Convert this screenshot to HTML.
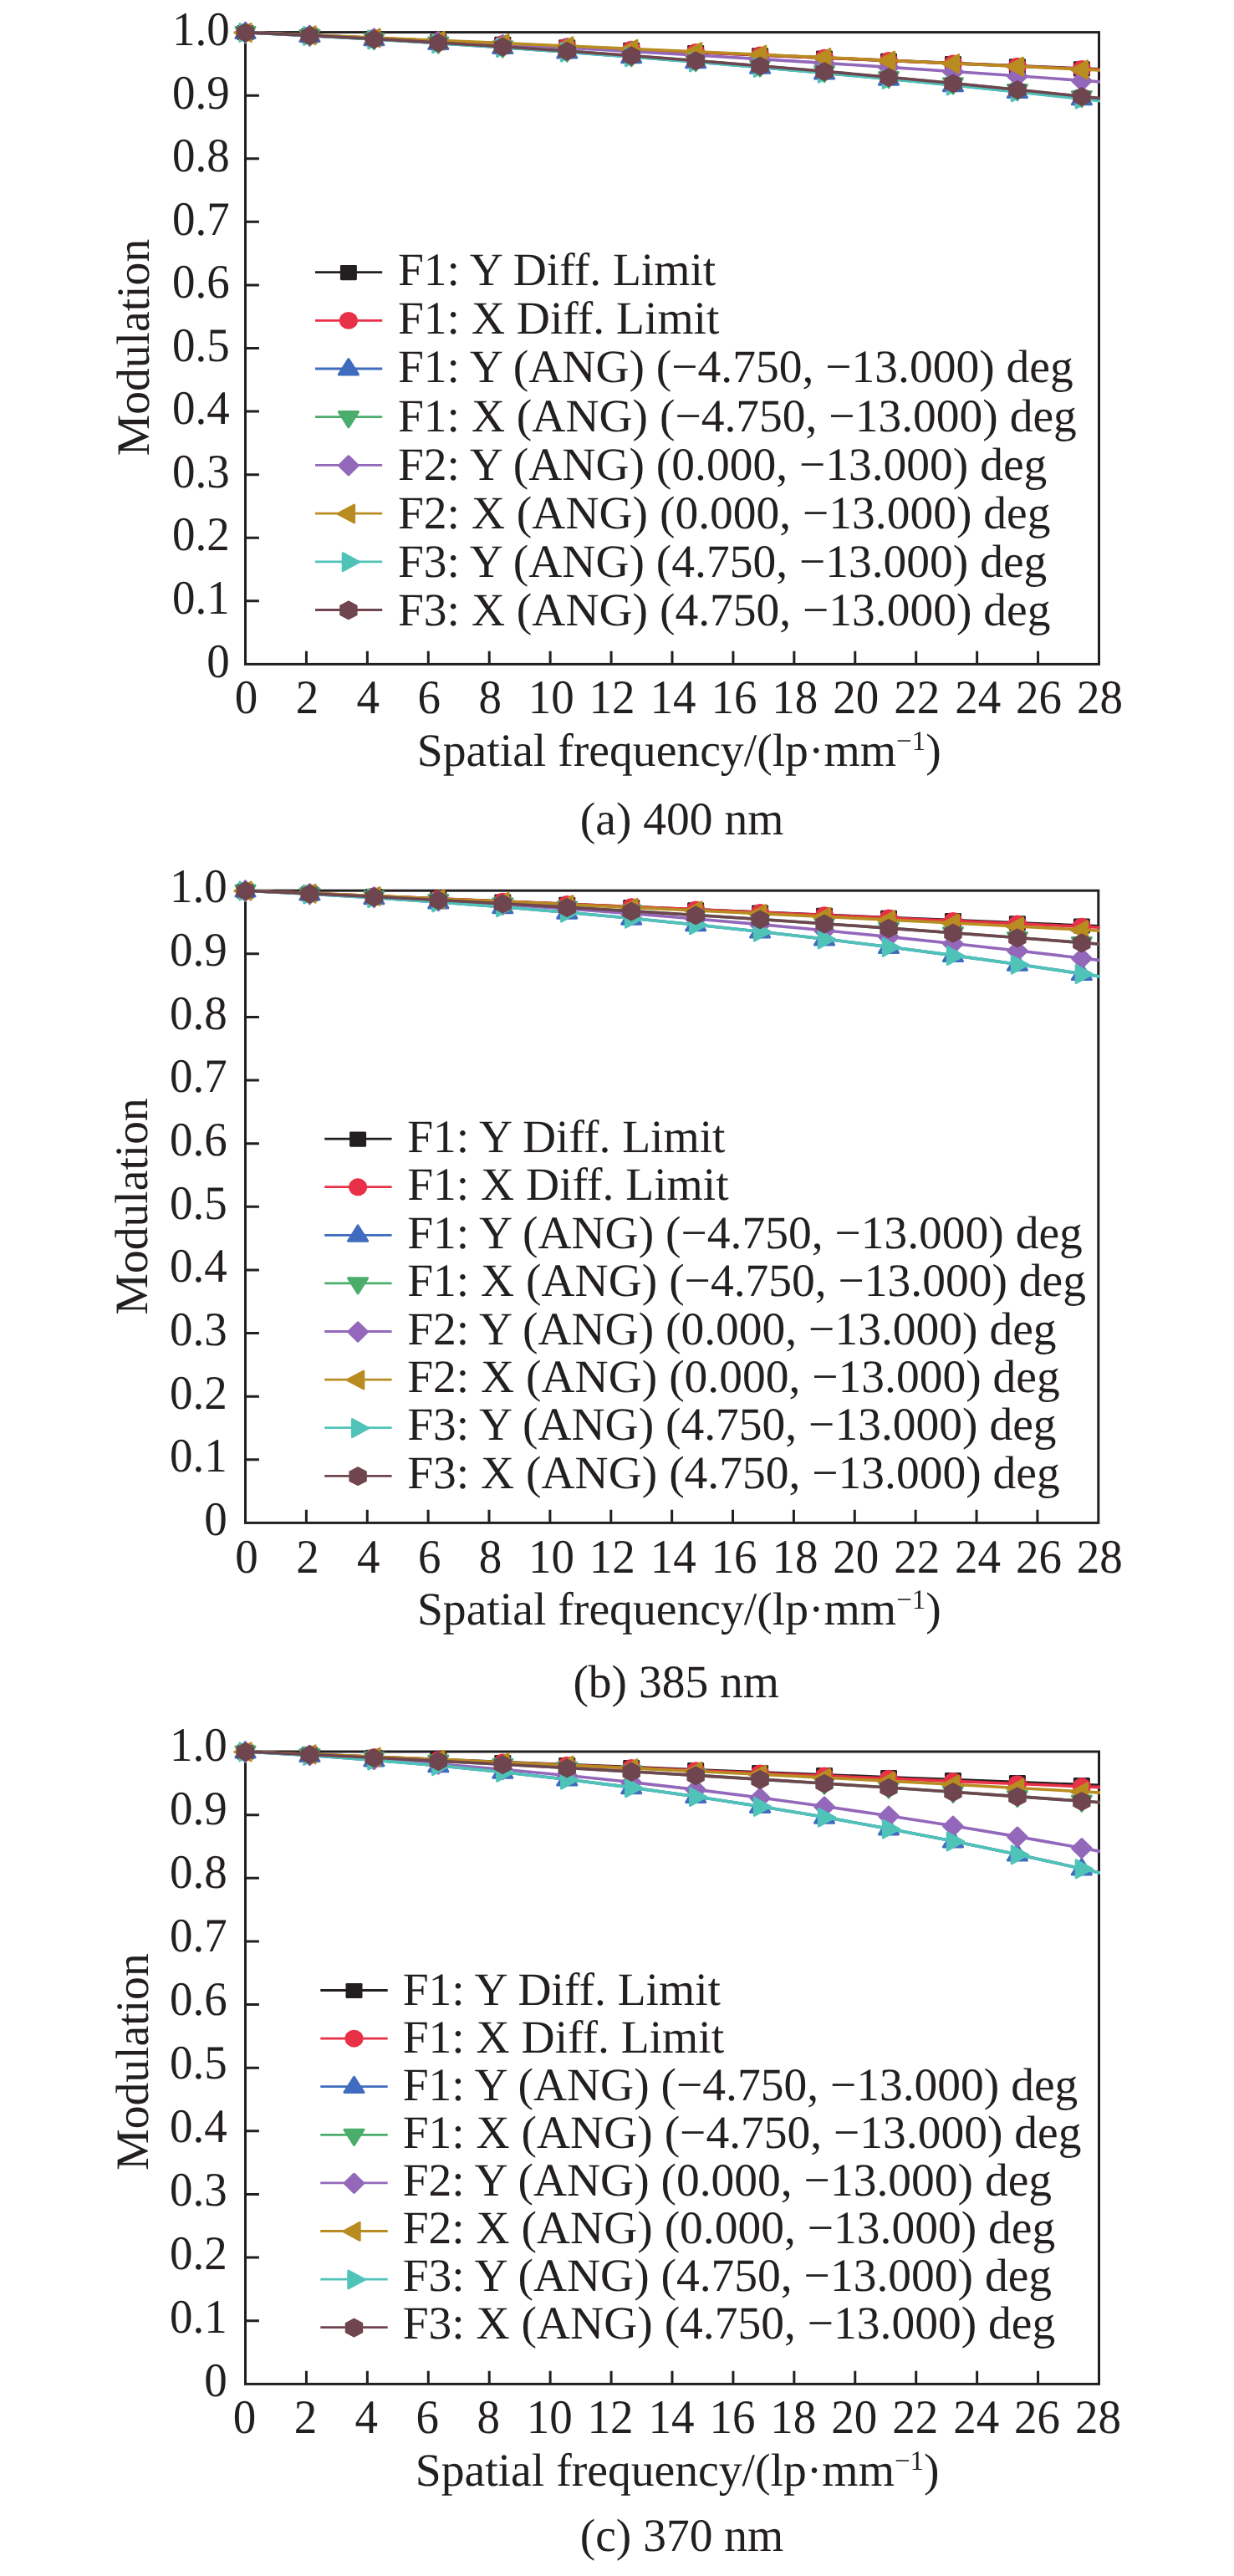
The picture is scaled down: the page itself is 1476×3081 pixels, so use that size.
<!DOCTYPE html>
<html lang="en"><head><meta charset="utf-8"><title>MTF curves</title>
<style>html,body{margin:0;padding:0;background:#fff}svg{display:block}text{font-family:"Liberation Serif","Times New Roman",serif;font-size:55px;fill:#231f20;text-rendering:geometricPrecision}.b{font-size:55.5px}.x{font-size:55.65px}.m{font-size:55.6px}</style>
</head><body>
<svg width="1476" height="3081" viewBox="0 0 1476 3081">
<rect width="1476" height="3081" fill="#fff"/>
<g id="chart1">
<rect x="293.5" y="38.6" width="1021" height="755.8" fill="none" stroke="#231f20" stroke-width="3"/>
<path d="M293.5 718.82h16.4M293.5 643.24h16.4M293.5 567.66h16.4M293.5 492.08h16.4M293.5 416.5h16.4M293.5 340.92h16.4M293.5 265.34h16.4M293.5 189.76h16.4M293.5 114.18h16.4M366.43 794.4v-15.6M439.36 794.4v-15.6M512.29 794.4v-15.6M585.21 794.4v-15.6M658.14 794.4v-15.6M731.07 794.4v-15.6M804 794.4v-15.6M876.93 794.4v-15.6M949.86 794.4v-15.6M1022.79 794.4v-15.6M1095.71 794.4v-15.6M1168.64 794.4v-15.6M1241.57 794.4v-15.6" stroke="#231f20" stroke-width="3" fill="none"/>
<g text-anchor="end">
<text transform="translate(274.7 809.5) scale(1 1.045)">0</text>
<text transform="translate(274.7 733.96) scale(1 1.045)">0.1</text>
<text transform="translate(274.7 658.42) scale(1 1.045)">0.2</text>
<text transform="translate(274.7 582.88) scale(1 1.045)">0.3</text>
<text transform="translate(274.7 507.34) scale(1 1.045)">0.4</text>
<text transform="translate(274.7 431.8) scale(1 1.045)">0.5</text>
<text transform="translate(274.7 356.26) scale(1 1.045)">0.6</text>
<text transform="translate(274.7 280.72) scale(1 1.045)">0.7</text>
<text transform="translate(274.7 205.18) scale(1 1.045)">0.8</text>
<text transform="translate(274.7 129.64) scale(1 1.045)">0.9</text>
<text transform="translate(274.7 54.1) scale(1 1.045)">1.0</text>
</g>
<g text-anchor="middle">
<text transform="translate(294.5 853.4) scale(1 1.045)">0</text>
<text transform="translate(367.43 853.4) scale(1 1.045)">2</text>
<text transform="translate(440.36 853.4) scale(1 1.045)">4</text>
<text transform="translate(513.29 853.4) scale(1 1.045)">6</text>
<text transform="translate(586.21 853.4) scale(1 1.045)">8</text>
<text transform="translate(659.14 853.4) scale(1 1.045)">10</text>
<text transform="translate(732.07 853.4) scale(1 1.045)">12</text>
<text transform="translate(805 853.4) scale(1 1.045)">14</text>
<text transform="translate(877.93 853.4) scale(1 1.045)">16</text>
<text transform="translate(950.86 853.4) scale(1 1.045)">18</text>
<text transform="translate(1023.79 853.4) scale(1 1.045)">20</text>
<text transform="translate(1096.71 853.4) scale(1 1.045)">22</text>
<text transform="translate(1169.64 853.4) scale(1 1.045)">24</text>
<text transform="translate(1242.57 853.4) scale(1 1.045)">26</text>
<text transform="translate(1315.5 853.4) scale(1 1.045)">28</text>
</g>
<text transform="translate(177.6 415.5) rotate(-90)" text-anchor="middle" class="m">Modulation</text>
<text x="498.8" y="915.7" class="x" style="filter:grayscale(1)">Spatial frequency/(lp·mm<tspan font-size="33" dy="-19">−1</tspan><tspan dy="19">)</tspan></text>
<text x="693.8" y="998" class="b">(a) 400 nm</text>
<clipPath id="clip0"><rect x="273.5" y="18.6" width="1042.5" height="795.8"/></clipPath>
<g clip-path="url(#clip0)">
<polyline points="293.5,38.6 370.45,42.11 447.4,45.59 524.35,49.04 601.3,52.47 678.25,55.86 755.2,59.23 832.15,62.56 909.1,65.87 986.05,69.15 1063,72.4 1139.95,75.61 1216.9,78.81 1293.85,81.97 1325.44,83.26" fill="none" stroke="#231f20" stroke-width="3.6" stroke-linejoin="round"/>
<rect x="283.5" y="30" width="20" height="18.2" rx="1.4" fill="#231f20"/>
<rect x="360.45" y="33.51" width="20" height="18.2" rx="1.4" fill="#231f20"/>
<rect x="437.4" y="36.99" width="20" height="18.2" rx="1.4" fill="#231f20"/>
<rect x="514.35" y="40.44" width="20" height="18.2" rx="1.4" fill="#231f20"/>
<rect x="591.3" y="43.87" width="20" height="18.2" rx="1.4" fill="#231f20"/>
<rect x="668.25" y="47.26" width="20" height="18.2" rx="1.4" fill="#231f20"/>
<rect x="745.2" y="50.63" width="20" height="18.2" rx="1.4" fill="#231f20"/>
<rect x="822.15" y="53.96" width="20" height="18.2" rx="1.4" fill="#231f20"/>
<rect x="899.1" y="57.27" width="20" height="18.2" rx="1.4" fill="#231f20"/>
<rect x="976.05" y="60.55" width="20" height="18.2" rx="1.4" fill="#231f20"/>
<rect x="1053" y="63.8" width="20" height="18.2" rx="1.4" fill="#231f20"/>
<rect x="1129.95" y="67.01" width="20" height="18.2" rx="1.4" fill="#231f20"/>
<rect x="1206.9" y="70.21" width="20" height="18.2" rx="1.4" fill="#231f20"/>
<rect x="1283.85" y="73.37" width="20" height="18.2" rx="1.4" fill="#231f20"/>
<polyline points="293.5,38.6 370.45,42.03 447.4,45.45 524.35,48.87 601.3,52.27 678.25,55.66 755.2,59.04 832.15,62.41 909.1,65.77 986.05,69.12 1063,72.46 1139.95,75.79 1216.9,79.11 1293.85,82.41 1325.44,83.77" fill="none" stroke="#e83046" stroke-width="3.6" stroke-linejoin="round"/>
<ellipse cx="293.5" cy="38.7" rx="11" ry="10.45" fill="#e83046"/>
<ellipse cx="370.45" cy="42.13" rx="11" ry="10.45" fill="#e83046"/>
<ellipse cx="447.4" cy="45.55" rx="11" ry="10.45" fill="#e83046"/>
<ellipse cx="524.35" cy="48.97" rx="11" ry="10.45" fill="#e83046"/>
<ellipse cx="601.3" cy="52.37" rx="11" ry="10.45" fill="#e83046"/>
<ellipse cx="678.25" cy="55.76" rx="11" ry="10.45" fill="#e83046"/>
<ellipse cx="755.2" cy="59.14" rx="11" ry="10.45" fill="#e83046"/>
<ellipse cx="832.15" cy="62.51" rx="11" ry="10.45" fill="#e83046"/>
<ellipse cx="909.1" cy="65.87" rx="11" ry="10.45" fill="#e83046"/>
<ellipse cx="986.05" cy="69.22" rx="11" ry="10.45" fill="#e83046"/>
<ellipse cx="1063" cy="72.56" rx="11" ry="10.45" fill="#e83046"/>
<ellipse cx="1139.95" cy="75.89" rx="11" ry="10.45" fill="#e83046"/>
<ellipse cx="1216.9" cy="79.21" rx="11" ry="10.45" fill="#e83046"/>
<ellipse cx="1293.85" cy="82.51" rx="11" ry="10.45" fill="#e83046"/>
<polyline points="293.5,38.6 370.45,42.61 447.4,46.96 524.35,51.66 601.3,56.71 678.25,62.11 755.2,67.85 832.15,73.94 909.1,80.38 986.05,87.17 1063,94.31 1139.95,101.8 1216.9,109.63 1293.85,117.81 1325.44,121.27" fill="none" stroke="#3f6cbe" stroke-width="3.6" stroke-linejoin="round"/>
<polygon points="293.5,27.25 305.05,45.5 281.95,45.5" fill="#3f6cbe" stroke="#3f6cbe" stroke-width="3" stroke-linejoin="round"/>
<polygon points="370.45,31.26 382,49.51 358.9,49.51" fill="#3f6cbe" stroke="#3f6cbe" stroke-width="3" stroke-linejoin="round"/>
<polygon points="447.4,35.61 458.95,53.86 435.85,53.86" fill="#3f6cbe" stroke="#3f6cbe" stroke-width="3" stroke-linejoin="round"/>
<polygon points="524.35,40.31 535.9,58.56 512.8,58.56" fill="#3f6cbe" stroke="#3f6cbe" stroke-width="3" stroke-linejoin="round"/>
<polygon points="601.3,45.36 612.85,63.61 589.75,63.61" fill="#3f6cbe" stroke="#3f6cbe" stroke-width="3" stroke-linejoin="round"/>
<polygon points="678.25,50.76 689.8,69.01 666.7,69.01" fill="#3f6cbe" stroke="#3f6cbe" stroke-width="3" stroke-linejoin="round"/>
<polygon points="755.2,56.5 766.75,74.75 743.65,74.75" fill="#3f6cbe" stroke="#3f6cbe" stroke-width="3" stroke-linejoin="round"/>
<polygon points="832.15,62.59 843.7,80.84 820.6,80.84" fill="#3f6cbe" stroke="#3f6cbe" stroke-width="3" stroke-linejoin="round"/>
<polygon points="909.1,69.03 920.65,87.28 897.55,87.28" fill="#3f6cbe" stroke="#3f6cbe" stroke-width="3" stroke-linejoin="round"/>
<polygon points="986.05,75.82 997.6,94.07 974.5,94.07" fill="#3f6cbe" stroke="#3f6cbe" stroke-width="3" stroke-linejoin="round"/>
<polygon points="1063,82.96 1074.55,101.21 1051.45,101.21" fill="#3f6cbe" stroke="#3f6cbe" stroke-width="3" stroke-linejoin="round"/>
<polygon points="1139.95,90.45 1151.5,108.7 1128.4,108.7" fill="#3f6cbe" stroke="#3f6cbe" stroke-width="3" stroke-linejoin="round"/>
<polygon points="1216.9,98.28 1228.45,116.53 1205.35,116.53" fill="#3f6cbe" stroke="#3f6cbe" stroke-width="3" stroke-linejoin="round"/>
<polygon points="1293.85,106.46 1305.4,124.71 1282.3,124.71" fill="#3f6cbe" stroke="#3f6cbe" stroke-width="3" stroke-linejoin="round"/>
<polyline points="293.5,38.6 370.45,42.41 447.4,46.57 524.35,51.08 601.3,55.94 678.25,61.16 755.2,66.73 832.15,72.65 909.1,78.93 986.05,85.56 1063,92.54 1139.95,99.87 1216.9,107.56 1293.85,115.6 1325.44,119" fill="none" stroke="#4bad6c" stroke-width="3.6" stroke-linejoin="round"/>
<polygon points="293.5,50.75 305.05,32.5 281.95,32.5" fill="#4bad6c" stroke="#4bad6c" stroke-width="3" stroke-linejoin="round"/>
<polygon points="370.45,54.56 382,36.31 358.9,36.31" fill="#4bad6c" stroke="#4bad6c" stroke-width="3" stroke-linejoin="round"/>
<polygon points="447.4,58.72 458.95,40.47 435.85,40.47" fill="#4bad6c" stroke="#4bad6c" stroke-width="3" stroke-linejoin="round"/>
<polygon points="524.35,63.23 535.9,44.98 512.8,44.98" fill="#4bad6c" stroke="#4bad6c" stroke-width="3" stroke-linejoin="round"/>
<polygon points="601.3,68.09 612.85,49.84 589.75,49.84" fill="#4bad6c" stroke="#4bad6c" stroke-width="3" stroke-linejoin="round"/>
<polygon points="678.25,73.31 689.8,55.06 666.7,55.06" fill="#4bad6c" stroke="#4bad6c" stroke-width="3" stroke-linejoin="round"/>
<polygon points="755.2,78.88 766.75,60.63 743.65,60.63" fill="#4bad6c" stroke="#4bad6c" stroke-width="3" stroke-linejoin="round"/>
<polygon points="832.15,84.8 843.7,66.55 820.6,66.55" fill="#4bad6c" stroke="#4bad6c" stroke-width="3" stroke-linejoin="round"/>
<polygon points="909.1,91.08 920.65,72.83 897.55,72.83" fill="#4bad6c" stroke="#4bad6c" stroke-width="3" stroke-linejoin="round"/>
<polygon points="986.05,97.71 997.6,79.46 974.5,79.46" fill="#4bad6c" stroke="#4bad6c" stroke-width="3" stroke-linejoin="round"/>
<polygon points="1063,104.69 1074.55,86.44 1051.45,86.44" fill="#4bad6c" stroke="#4bad6c" stroke-width="3" stroke-linejoin="round"/>
<polygon points="1139.95,112.02 1151.5,93.77 1128.4,93.77" fill="#4bad6c" stroke="#4bad6c" stroke-width="3" stroke-linejoin="round"/>
<polygon points="1216.9,119.71 1228.45,101.46 1205.35,101.46" fill="#4bad6c" stroke="#4bad6c" stroke-width="3" stroke-linejoin="round"/>
<polygon points="1293.85,127.75 1305.4,109.5 1282.3,109.5" fill="#4bad6c" stroke="#4bad6c" stroke-width="3" stroke-linejoin="round"/>
<polyline points="293.5,38.6 370.45,41.98 447.4,45.54 524.35,49.27 601.3,53.18 678.25,57.27 755.2,61.53 832.15,65.97 909.1,70.59 986.05,75.38 1063,80.35 1139.95,85.49 1216.9,90.82 1293.85,96.31 1325.44,98.62" fill="none" stroke="#9368ba" stroke-width="3.6" stroke-linejoin="round"/>
<polygon points="293.5,28.3 304.4,39 293.5,49.7 282.6,39" fill="#9368ba" stroke="#9368ba" stroke-width="3.6" stroke-linejoin="round"/>
<polygon points="370.45,31.68 381.35,42.38 370.45,53.08 359.55,42.38" fill="#9368ba" stroke="#9368ba" stroke-width="3.6" stroke-linejoin="round"/>
<polygon points="447.4,35.24 458.3,45.94 447.4,56.64 436.5,45.94" fill="#9368ba" stroke="#9368ba" stroke-width="3.6" stroke-linejoin="round"/>
<polygon points="524.35,38.97 535.25,49.67 524.35,60.37 513.45,49.67" fill="#9368ba" stroke="#9368ba" stroke-width="3.6" stroke-linejoin="round"/>
<polygon points="601.3,42.88 612.2,53.58 601.3,64.28 590.4,53.58" fill="#9368ba" stroke="#9368ba" stroke-width="3.6" stroke-linejoin="round"/>
<polygon points="678.25,46.97 689.15,57.67 678.25,68.37 667.35,57.67" fill="#9368ba" stroke="#9368ba" stroke-width="3.6" stroke-linejoin="round"/>
<polygon points="755.2,51.23 766.1,61.93 755.2,72.63 744.3,61.93" fill="#9368ba" stroke="#9368ba" stroke-width="3.6" stroke-linejoin="round"/>
<polygon points="832.15,55.67 843.05,66.37 832.15,77.07 821.25,66.37" fill="#9368ba" stroke="#9368ba" stroke-width="3.6" stroke-linejoin="round"/>
<polygon points="909.1,60.29 920,70.99 909.1,81.69 898.2,70.99" fill="#9368ba" stroke="#9368ba" stroke-width="3.6" stroke-linejoin="round"/>
<polygon points="986.05,65.08 996.95,75.78 986.05,86.48 975.15,75.78" fill="#9368ba" stroke="#9368ba" stroke-width="3.6" stroke-linejoin="round"/>
<polygon points="1063,70.05 1073.9,80.75 1063,91.45 1052.1,80.75" fill="#9368ba" stroke="#9368ba" stroke-width="3.6" stroke-linejoin="round"/>
<polygon points="1139.95,75.19 1150.85,85.89 1139.95,96.59 1129.05,85.89" fill="#9368ba" stroke="#9368ba" stroke-width="3.6" stroke-linejoin="round"/>
<polygon points="1216.9,80.52 1227.8,91.22 1216.9,101.92 1206,91.22" fill="#9368ba" stroke="#9368ba" stroke-width="3.6" stroke-linejoin="round"/>
<polygon points="1293.85,86.01 1304.75,96.71 1293.85,107.41 1282.95,96.71" fill="#9368ba" stroke="#9368ba" stroke-width="3.6" stroke-linejoin="round"/>
<polyline points="293.5,38.6 370.45,41.82 447.4,45.07 524.35,48.35 601.3,51.66 678.25,55 755.2,58.38 832.15,61.79 909.1,65.22 986.05,68.69 1063,72.2 1139.95,75.73 1216.9,79.29 1293.85,82.89 1325.44,84.37" fill="none" stroke="#b88c20" stroke-width="3.6" stroke-linejoin="round"/>
<polygon points="280.6,39 300.4,28.3 300.4,49.7" fill="#b88c20" stroke="#b88c20" stroke-width="2.6" stroke-linejoin="round"/>
<polygon points="357.55,42.22 377.35,31.52 377.35,52.92" fill="#b88c20" stroke="#b88c20" stroke-width="2.6" stroke-linejoin="round"/>
<polygon points="434.5,45.47 454.3,34.77 454.3,56.17" fill="#b88c20" stroke="#b88c20" stroke-width="2.6" stroke-linejoin="round"/>
<polygon points="511.45,48.75 531.25,38.05 531.25,59.45" fill="#b88c20" stroke="#b88c20" stroke-width="2.6" stroke-linejoin="round"/>
<polygon points="588.4,52.06 608.2,41.36 608.2,62.76" fill="#b88c20" stroke="#b88c20" stroke-width="2.6" stroke-linejoin="round"/>
<polygon points="665.35,55.4 685.15,44.7 685.15,66.1" fill="#b88c20" stroke="#b88c20" stroke-width="2.6" stroke-linejoin="round"/>
<polygon points="742.3,58.78 762.1,48.08 762.1,69.48" fill="#b88c20" stroke="#b88c20" stroke-width="2.6" stroke-linejoin="round"/>
<polygon points="819.25,62.19 839.05,51.49 839.05,72.89" fill="#b88c20" stroke="#b88c20" stroke-width="2.6" stroke-linejoin="round"/>
<polygon points="896.2,65.62 916,54.92 916,76.32" fill="#b88c20" stroke="#b88c20" stroke-width="2.6" stroke-linejoin="round"/>
<polygon points="973.15,69.09 992.95,58.39 992.95,79.79" fill="#b88c20" stroke="#b88c20" stroke-width="2.6" stroke-linejoin="round"/>
<polygon points="1050.1,72.6 1069.9,61.9 1069.9,83.3" fill="#b88c20" stroke="#b88c20" stroke-width="2.6" stroke-linejoin="round"/>
<polygon points="1127.05,76.13 1146.85,65.43 1146.85,86.83" fill="#b88c20" stroke="#b88c20" stroke-width="2.6" stroke-linejoin="round"/>
<polygon points="1204,79.69 1223.8,68.99 1223.8,90.39" fill="#b88c20" stroke="#b88c20" stroke-width="2.6" stroke-linejoin="round"/>
<polygon points="1280.95,83.29 1300.75,72.59 1300.75,93.99" fill="#b88c20" stroke="#b88c20" stroke-width="2.6" stroke-linejoin="round"/>
<polyline points="293.5,38.6 370.45,42.62 447.4,46.98 524.35,51.7 601.3,56.77 678.25,62.19 755.2,67.96 832.15,74.08 909.1,80.56 986.05,87.38 1063,94.55 1139.95,102.08 1216.9,109.96 1293.85,118.18 1325.44,121.66" fill="none" stroke="#50c3b9" stroke-width="3.6" stroke-linejoin="round"/>
<polygon points="306.4,39 286.6,28.3 286.6,49.7" fill="#50c3b9" stroke="#50c3b9" stroke-width="2.6" stroke-linejoin="round"/>
<polygon points="383.35,43.02 363.55,32.32 363.55,53.72" fill="#50c3b9" stroke="#50c3b9" stroke-width="2.6" stroke-linejoin="round"/>
<polygon points="460.3,47.38 440.5,36.68 440.5,58.08" fill="#50c3b9" stroke="#50c3b9" stroke-width="2.6" stroke-linejoin="round"/>
<polygon points="537.25,52.1 517.45,41.4 517.45,62.8" fill="#50c3b9" stroke="#50c3b9" stroke-width="2.6" stroke-linejoin="round"/>
<polygon points="614.2,57.17 594.4,46.47 594.4,67.87" fill="#50c3b9" stroke="#50c3b9" stroke-width="2.6" stroke-linejoin="round"/>
<polygon points="691.15,62.59 671.35,51.89 671.35,73.29" fill="#50c3b9" stroke="#50c3b9" stroke-width="2.6" stroke-linejoin="round"/>
<polygon points="768.1,68.36 748.3,57.66 748.3,79.06" fill="#50c3b9" stroke="#50c3b9" stroke-width="2.6" stroke-linejoin="round"/>
<polygon points="845.05,74.48 825.25,63.78 825.25,85.18" fill="#50c3b9" stroke="#50c3b9" stroke-width="2.6" stroke-linejoin="round"/>
<polygon points="922,80.96 902.2,70.26 902.2,91.66" fill="#50c3b9" stroke="#50c3b9" stroke-width="2.6" stroke-linejoin="round"/>
<polygon points="998.95,87.78 979.15,77.08 979.15,98.48" fill="#50c3b9" stroke="#50c3b9" stroke-width="2.6" stroke-linejoin="round"/>
<polygon points="1075.9,94.95 1056.1,84.25 1056.1,105.65" fill="#50c3b9" stroke="#50c3b9" stroke-width="2.6" stroke-linejoin="round"/>
<polygon points="1152.85,102.48 1133.05,91.78 1133.05,113.18" fill="#50c3b9" stroke="#50c3b9" stroke-width="2.6" stroke-linejoin="round"/>
<polygon points="1229.8,110.36 1210,99.66 1210,121.06" fill="#50c3b9" stroke="#50c3b9" stroke-width="2.6" stroke-linejoin="round"/>
<polygon points="1306.75,118.58 1286.95,107.88 1286.95,129.28" fill="#50c3b9" stroke="#50c3b9" stroke-width="2.6" stroke-linejoin="round"/>
<polyline points="293.5,38.6 370.45,42.37 447.4,46.5 524.35,50.97 601.3,55.81 678.25,60.99 755.2,66.53 832.15,72.43 909.1,78.67 986.05,85.28 1063,92.23 1139.95,99.54 1216.9,107.2 1293.85,115.22 1325.44,118.61" fill="none" stroke="#6f454f" stroke-width="3.6" stroke-linejoin="round"/>
<polygon points="293.5,28.3 303.4,33.5 303.4,44.5 293.5,49.7 283.6,44.5 283.6,33.5" fill="#6f454f" stroke="#6f454f" stroke-width="1.6" stroke-linejoin="round"/>
<polygon points="370.45,32.07 380.35,37.27 380.35,48.27 370.45,53.47 360.55,48.27 360.55,37.27" fill="#6f454f" stroke="#6f454f" stroke-width="1.6" stroke-linejoin="round"/>
<polygon points="447.4,36.2 457.3,41.4 457.3,52.4 447.4,57.6 437.5,52.4 437.5,41.4" fill="#6f454f" stroke="#6f454f" stroke-width="1.6" stroke-linejoin="round"/>
<polygon points="524.35,40.67 534.25,45.87 534.25,56.87 524.35,62.07 514.45,56.87 514.45,45.87" fill="#6f454f" stroke="#6f454f" stroke-width="1.6" stroke-linejoin="round"/>
<polygon points="601.3,45.51 611.2,50.71 611.2,61.71 601.3,66.91 591.4,61.71 591.4,50.71" fill="#6f454f" stroke="#6f454f" stroke-width="1.6" stroke-linejoin="round"/>
<polygon points="678.25,50.69 688.15,55.89 688.15,66.89 678.25,72.09 668.35,66.89 668.35,55.89" fill="#6f454f" stroke="#6f454f" stroke-width="1.6" stroke-linejoin="round"/>
<polygon points="755.2,56.23 765.1,61.43 765.1,72.43 755.2,77.63 745.3,72.43 745.3,61.43" fill="#6f454f" stroke="#6f454f" stroke-width="1.6" stroke-linejoin="round"/>
<polygon points="832.15,62.13 842.05,67.33 842.05,78.33 832.15,83.53 822.25,78.33 822.25,67.33" fill="#6f454f" stroke="#6f454f" stroke-width="1.6" stroke-linejoin="round"/>
<polygon points="909.1,68.37 919,73.57 919,84.57 909.1,89.77 899.2,84.57 899.2,73.57" fill="#6f454f" stroke="#6f454f" stroke-width="1.6" stroke-linejoin="round"/>
<polygon points="986.05,74.98 995.95,80.18 995.95,91.18 986.05,96.38 976.15,91.18 976.15,80.18" fill="#6f454f" stroke="#6f454f" stroke-width="1.6" stroke-linejoin="round"/>
<polygon points="1063,81.93 1072.9,87.13 1072.9,98.13 1063,103.33 1053.1,98.13 1053.1,87.13" fill="#6f454f" stroke="#6f454f" stroke-width="1.6" stroke-linejoin="round"/>
<polygon points="1139.95,89.24 1149.85,94.44 1149.85,105.44 1139.95,110.64 1130.05,105.44 1130.05,94.44" fill="#6f454f" stroke="#6f454f" stroke-width="1.6" stroke-linejoin="round"/>
<polygon points="1216.9,96.9 1226.8,102.1 1226.8,113.1 1216.9,118.3 1207,113.1 1207,102.1" fill="#6f454f" stroke="#6f454f" stroke-width="1.6" stroke-linejoin="round"/>
<polygon points="1293.85,104.92 1303.75,110.12 1303.75,121.12 1293.85,126.32 1283.95,121.12 1283.95,110.12" fill="#6f454f" stroke="#6f454f" stroke-width="1.6" stroke-linejoin="round"/>
</g>
<path d="M377 325.6H457.2" stroke="#231f20" stroke-width="2.8"/>
<rect x="406.9" y="317" width="20" height="18.2" rx="1.4" fill="#231f20"/>
<text x="476" y="341.05" class="b">F1: Y Diff. Limit</text>
<path d="M377 383.3H457.2" stroke="#e83046" stroke-width="2.8"/>
<ellipse cx="416.9" cy="383.4" rx="11" ry="10.45" fill="#e83046"/>
<text x="476" y="399.21" class="b">F1: X Diff. Limit</text>
<path d="M377 441H457.2" stroke="#3f6cbe" stroke-width="2.8"/>
<polygon points="416.9,429.65 428.45,447.9 405.35,447.9" fill="#3f6cbe" stroke="#3f6cbe" stroke-width="3" stroke-linejoin="round"/>
<text x="476" y="457.37" class="b">F1: Y (ANG) (−4.750, −13.000) deg</text>
<path d="M377 498.7H457.2" stroke="#4bad6c" stroke-width="2.8"/>
<polygon points="416.9,510.85 428.45,492.6 405.35,492.6" fill="#4bad6c" stroke="#4bad6c" stroke-width="3" stroke-linejoin="round"/>
<text x="476" y="515.53" class="b">F1: X (ANG) (−4.750, −13.000) deg</text>
<path d="M377 556.4H457.2" stroke="#9368ba" stroke-width="2.8"/>
<polygon points="416.9,546.1 427.8,556.8 416.9,567.5 406,556.8" fill="#9368ba" stroke="#9368ba" stroke-width="3.6" stroke-linejoin="round"/>
<text x="476" y="573.69" class="b">F2: Y (ANG) (0.000, −13.000) deg</text>
<path d="M377 614.1H457.2" stroke="#b88c20" stroke-width="2.8"/>
<polygon points="404,614.5 423.8,603.8 423.8,625.2" fill="#b88c20" stroke="#b88c20" stroke-width="2.6" stroke-linejoin="round"/>
<text x="476" y="631.85" class="b">F2: X (ANG) (0.000, −13.000) deg</text>
<path d="M377 671.8H457.2" stroke="#50c3b9" stroke-width="2.8"/>
<polygon points="429.8,672.2 410,661.5 410,682.9" fill="#50c3b9" stroke="#50c3b9" stroke-width="2.6" stroke-linejoin="round"/>
<text x="476" y="690.01" class="b">F3: Y (ANG) (4.750, −13.000) deg</text>
<path d="M377 729.5H457.2" stroke="#6f454f" stroke-width="2.8"/>
<polygon points="416.9,719.2 426.8,724.4 426.8,735.4 416.9,740.6 407,735.4 407,724.4" fill="#6f454f" stroke="#6f454f" stroke-width="1.6" stroke-linejoin="round"/>
<text x="476" y="748.17" class="b">F3: X (ANG) (4.750, −13.000) deg</text>
</g>
<g id="chart2">
<rect x="293.5" y="1065.2" width="1020.3" height="756.2" fill="none" stroke="#231f20" stroke-width="3"/>
<path d="M293.5 1745.78h16.4M293.5 1670.16h16.4M293.5 1594.54h16.4M293.5 1518.92h16.4M293.5 1443.3h16.4M293.5 1367.68h16.4M293.5 1292.06h16.4M293.5 1216.44h16.4M293.5 1140.82h16.4M366.38 1821.4v-15.6M439.26 1821.4v-15.6M512.14 1821.4v-15.6M585.01 1821.4v-15.6M657.89 1821.4v-15.6M730.77 1821.4v-15.6M803.65 1821.4v-15.6M876.53 1821.4v-15.6M949.41 1821.4v-15.6M1022.29 1821.4v-15.6M1095.16 1821.4v-15.6M1168.04 1821.4v-15.6M1240.92 1821.4v-15.6" stroke="#231f20" stroke-width="3" fill="none"/>
<g text-anchor="end">
<text transform="translate(271.8 1836) scale(1 1.045)">0</text>
<text transform="translate(271.8 1760.34) scale(1 1.045)">0.1</text>
<text transform="translate(271.8 1684.68) scale(1 1.045)">0.2</text>
<text transform="translate(271.8 1609.02) scale(1 1.045)">0.3</text>
<text transform="translate(271.8 1533.36) scale(1 1.045)">0.4</text>
<text transform="translate(271.8 1457.7) scale(1 1.045)">0.5</text>
<text transform="translate(271.8 1382.04) scale(1 1.045)">0.6</text>
<text transform="translate(271.8 1306.38) scale(1 1.045)">0.7</text>
<text transform="translate(271.8 1230.72) scale(1 1.045)">0.8</text>
<text transform="translate(271.8 1155.06) scale(1 1.045)">0.9</text>
<text transform="translate(271.8 1079.4) scale(1 1.045)">1.0</text>
</g>
<g text-anchor="middle">
<text transform="translate(295 1880.8) scale(1 1.045)">0</text>
<text transform="translate(367.88 1880.8) scale(1 1.045)">2</text>
<text transform="translate(440.76 1880.8) scale(1 1.045)">4</text>
<text transform="translate(513.64 1880.8) scale(1 1.045)">6</text>
<text transform="translate(586.51 1880.8) scale(1 1.045)">8</text>
<text transform="translate(659.39 1880.8) scale(1 1.045)">10</text>
<text transform="translate(732.27 1880.8) scale(1 1.045)">12</text>
<text transform="translate(805.15 1880.8) scale(1 1.045)">14</text>
<text transform="translate(878.03 1880.8) scale(1 1.045)">16</text>
<text transform="translate(950.91 1880.8) scale(1 1.045)">18</text>
<text transform="translate(1023.79 1880.8) scale(1 1.045)">20</text>
<text transform="translate(1096.66 1880.8) scale(1 1.045)">22</text>
<text transform="translate(1169.54 1880.8) scale(1 1.045)">24</text>
<text transform="translate(1242.42 1880.8) scale(1 1.045)">26</text>
<text transform="translate(1315.3 1880.8) scale(1 1.045)">28</text>
</g>
<text transform="translate(176.3 1442.8) rotate(-90)" text-anchor="middle" class="m">Modulation</text>
<text x="498.9" y="1942.9" class="x" style="filter:grayscale(1)">Spatial frequency/(lp·mm<tspan font-size="33" dy="-19">−1</tspan><tspan dy="19">)</tspan></text>
<text x="685.4" y="2030.1" class="b">(b) 385 nm</text>
<clipPath id="clip1"><rect x="273.5" y="1045.2" width="1041.8" height="796.2"/></clipPath>
<g clip-path="url(#clip1)">
<polyline points="293.5,1065.2 370.45,1068.45 447.4,1071.7 524.35,1074.94 601.3,1078.17 678.25,1081.4 755.2,1084.62 832.15,1087.83 909.1,1091.04 986.05,1094.25 1063,1097.44 1139.95,1100.64 1216.9,1103.82 1293.85,1107 1324.73,1108.28" fill="none" stroke="#231f20" stroke-width="3.6" stroke-linejoin="round"/>
<rect x="283.5" y="1056.6" width="20" height="18.2" rx="1.4" fill="#231f20"/>
<rect x="360.45" y="1059.85" width="20" height="18.2" rx="1.4" fill="#231f20"/>
<rect x="437.4" y="1063.1" width="20" height="18.2" rx="1.4" fill="#231f20"/>
<rect x="514.35" y="1066.34" width="20" height="18.2" rx="1.4" fill="#231f20"/>
<rect x="591.3" y="1069.57" width="20" height="18.2" rx="1.4" fill="#231f20"/>
<rect x="668.25" y="1072.8" width="20" height="18.2" rx="1.4" fill="#231f20"/>
<rect x="745.2" y="1076.02" width="20" height="18.2" rx="1.4" fill="#231f20"/>
<rect x="822.15" y="1079.23" width="20" height="18.2" rx="1.4" fill="#231f20"/>
<rect x="899.1" y="1082.44" width="20" height="18.2" rx="1.4" fill="#231f20"/>
<rect x="976.05" y="1085.65" width="20" height="18.2" rx="1.4" fill="#231f20"/>
<rect x="1053" y="1088.84" width="20" height="18.2" rx="1.4" fill="#231f20"/>
<rect x="1129.95" y="1092.04" width="20" height="18.2" rx="1.4" fill="#231f20"/>
<rect x="1206.9" y="1095.22" width="20" height="18.2" rx="1.4" fill="#231f20"/>
<rect x="1283.85" y="1098.4" width="20" height="18.2" rx="1.4" fill="#231f20"/>
<polyline points="293.5,1065.2 370.45,1068.38 447.4,1071.58 524.35,1074.8 601.3,1078.05 678.25,1081.31 755.2,1084.6 832.15,1087.91 909.1,1091.24 986.05,1094.59 1063,1097.96 1139.95,1101.35 1216.9,1104.77 1293.85,1108.2 1324.73,1109.59" fill="none" stroke="#e83046" stroke-width="3.6" stroke-linejoin="round"/>
<ellipse cx="293.5" cy="1065.3" rx="11" ry="10.45" fill="#e83046"/>
<ellipse cx="370.45" cy="1068.48" rx="11" ry="10.45" fill="#e83046"/>
<ellipse cx="447.4" cy="1071.68" rx="11" ry="10.45" fill="#e83046"/>
<ellipse cx="524.35" cy="1074.9" rx="11" ry="10.45" fill="#e83046"/>
<ellipse cx="601.3" cy="1078.15" rx="11" ry="10.45" fill="#e83046"/>
<ellipse cx="678.25" cy="1081.41" rx="11" ry="10.45" fill="#e83046"/>
<ellipse cx="755.2" cy="1084.7" rx="11" ry="10.45" fill="#e83046"/>
<ellipse cx="832.15" cy="1088.01" rx="11" ry="10.45" fill="#e83046"/>
<ellipse cx="909.1" cy="1091.34" rx="11" ry="10.45" fill="#e83046"/>
<ellipse cx="986.05" cy="1094.69" rx="11" ry="10.45" fill="#e83046"/>
<ellipse cx="1063" cy="1098.06" rx="11" ry="10.45" fill="#e83046"/>
<ellipse cx="1139.95" cy="1101.45" rx="11" ry="10.45" fill="#e83046"/>
<ellipse cx="1216.9" cy="1104.87" rx="11" ry="10.45" fill="#e83046"/>
<ellipse cx="1293.85" cy="1108.3" rx="11" ry="10.45" fill="#e83046"/>
<polyline points="293.5,1065.2 370.45,1069.19 447.4,1073.79 524.35,1079 601.3,1084.83 678.25,1091.26 755.2,1098.3 832.15,1105.95 909.1,1114.2 986.05,1123.07 1063,1132.55 1139.95,1142.64 1216.9,1153.34 1293.85,1164.64 1324.73,1169.35" fill="none" stroke="#3f6cbe" stroke-width="3.6" stroke-linejoin="round"/>
<polygon points="293.5,1053.85 305.05,1072.1 281.95,1072.1" fill="#3f6cbe" stroke="#3f6cbe" stroke-width="3" stroke-linejoin="round"/>
<polygon points="370.45,1057.84 382,1076.09 358.9,1076.09" fill="#3f6cbe" stroke="#3f6cbe" stroke-width="3" stroke-linejoin="round"/>
<polygon points="447.4,1062.44 458.95,1080.69 435.85,1080.69" fill="#3f6cbe" stroke="#3f6cbe" stroke-width="3" stroke-linejoin="round"/>
<polygon points="524.35,1067.65 535.9,1085.9 512.8,1085.9" fill="#3f6cbe" stroke="#3f6cbe" stroke-width="3" stroke-linejoin="round"/>
<polygon points="601.3,1073.48 612.85,1091.73 589.75,1091.73" fill="#3f6cbe" stroke="#3f6cbe" stroke-width="3" stroke-linejoin="round"/>
<polygon points="678.25,1079.91 689.8,1098.16 666.7,1098.16" fill="#3f6cbe" stroke="#3f6cbe" stroke-width="3" stroke-linejoin="round"/>
<polygon points="755.2,1086.95 766.75,1105.2 743.65,1105.2" fill="#3f6cbe" stroke="#3f6cbe" stroke-width="3" stroke-linejoin="round"/>
<polygon points="832.15,1094.6 843.7,1112.85 820.6,1112.85" fill="#3f6cbe" stroke="#3f6cbe" stroke-width="3" stroke-linejoin="round"/>
<polygon points="909.1,1102.85 920.65,1121.1 897.55,1121.1" fill="#3f6cbe" stroke="#3f6cbe" stroke-width="3" stroke-linejoin="round"/>
<polygon points="986.05,1111.72 997.6,1129.97 974.5,1129.97" fill="#3f6cbe" stroke="#3f6cbe" stroke-width="3" stroke-linejoin="round"/>
<polygon points="1063,1121.2 1074.55,1139.45 1051.45,1139.45" fill="#3f6cbe" stroke="#3f6cbe" stroke-width="3" stroke-linejoin="round"/>
<polygon points="1139.95,1131.29 1151.5,1149.54 1128.4,1149.54" fill="#3f6cbe" stroke="#3f6cbe" stroke-width="3" stroke-linejoin="round"/>
<polygon points="1216.9,1141.99 1228.45,1160.24 1205.35,1160.24" fill="#3f6cbe" stroke="#3f6cbe" stroke-width="3" stroke-linejoin="round"/>
<polygon points="1293.85,1153.29 1305.4,1171.54 1282.3,1171.54" fill="#3f6cbe" stroke="#3f6cbe" stroke-width="3" stroke-linejoin="round"/>
<polyline points="293.5,1065.2 370.45,1068.78 447.4,1072.57 524.35,1076.55 601.3,1080.74 678.25,1085.13 755.2,1089.72 832.15,1094.51 909.1,1099.51 986.05,1104.7 1063,1110.1 1139.95,1115.7 1216.9,1121.5 1293.85,1127.5 1324.73,1129.97" fill="none" stroke="#4bad6c" stroke-width="3.6" stroke-linejoin="round"/>
<polygon points="293.5,1077.35 305.05,1059.1 281.95,1059.1" fill="#4bad6c" stroke="#4bad6c" stroke-width="3" stroke-linejoin="round"/>
<polygon points="370.45,1080.93 382,1062.68 358.9,1062.68" fill="#4bad6c" stroke="#4bad6c" stroke-width="3" stroke-linejoin="round"/>
<polygon points="447.4,1084.72 458.95,1066.47 435.85,1066.47" fill="#4bad6c" stroke="#4bad6c" stroke-width="3" stroke-linejoin="round"/>
<polygon points="524.35,1088.7 535.9,1070.45 512.8,1070.45" fill="#4bad6c" stroke="#4bad6c" stroke-width="3" stroke-linejoin="round"/>
<polygon points="601.3,1092.89 612.85,1074.64 589.75,1074.64" fill="#4bad6c" stroke="#4bad6c" stroke-width="3" stroke-linejoin="round"/>
<polygon points="678.25,1097.28 689.8,1079.03 666.7,1079.03" fill="#4bad6c" stroke="#4bad6c" stroke-width="3" stroke-linejoin="round"/>
<polygon points="755.2,1101.87 766.75,1083.62 743.65,1083.62" fill="#4bad6c" stroke="#4bad6c" stroke-width="3" stroke-linejoin="round"/>
<polygon points="832.15,1106.66 843.7,1088.41 820.6,1088.41" fill="#4bad6c" stroke="#4bad6c" stroke-width="3" stroke-linejoin="round"/>
<polygon points="909.1,1111.66 920.65,1093.41 897.55,1093.41" fill="#4bad6c" stroke="#4bad6c" stroke-width="3" stroke-linejoin="round"/>
<polygon points="986.05,1116.85 997.6,1098.6 974.5,1098.6" fill="#4bad6c" stroke="#4bad6c" stroke-width="3" stroke-linejoin="round"/>
<polygon points="1063,1122.25 1074.55,1104 1051.45,1104" fill="#4bad6c" stroke="#4bad6c" stroke-width="3" stroke-linejoin="round"/>
<polygon points="1139.95,1127.85 1151.5,1109.6 1128.4,1109.6" fill="#4bad6c" stroke="#4bad6c" stroke-width="3" stroke-linejoin="round"/>
<polygon points="1216.9,1133.65 1228.45,1115.4 1205.35,1115.4" fill="#4bad6c" stroke="#4bad6c" stroke-width="3" stroke-linejoin="round"/>
<polygon points="1293.85,1139.65 1305.4,1121.4 1282.3,1121.4" fill="#4bad6c" stroke="#4bad6c" stroke-width="3" stroke-linejoin="round"/>
<polyline points="293.5,1065.2 370.45,1068.63 447.4,1072.53 524.35,1076.88 601.3,1081.71 678.25,1086.99 755.2,1092.74 832.15,1098.96 909.1,1105.64 986.05,1112.78 1063,1120.39 1139.95,1128.46 1216.9,1136.99 1293.85,1145.99 1324.73,1149.73" fill="none" stroke="#9368ba" stroke-width="3.6" stroke-linejoin="round"/>
<polygon points="293.5,1054.9 304.4,1065.6 293.5,1076.3 282.6,1065.6" fill="#9368ba" stroke="#9368ba" stroke-width="3.6" stroke-linejoin="round"/>
<polygon points="370.45,1058.33 381.35,1069.03 370.45,1079.73 359.55,1069.03" fill="#9368ba" stroke="#9368ba" stroke-width="3.6" stroke-linejoin="round"/>
<polygon points="447.4,1062.23 458.3,1072.93 447.4,1083.63 436.5,1072.93" fill="#9368ba" stroke="#9368ba" stroke-width="3.6" stroke-linejoin="round"/>
<polygon points="524.35,1066.58 535.25,1077.28 524.35,1087.98 513.45,1077.28" fill="#9368ba" stroke="#9368ba" stroke-width="3.6" stroke-linejoin="round"/>
<polygon points="601.3,1071.41 612.2,1082.11 601.3,1092.81 590.4,1082.11" fill="#9368ba" stroke="#9368ba" stroke-width="3.6" stroke-linejoin="round"/>
<polygon points="678.25,1076.69 689.15,1087.39 678.25,1098.09 667.35,1087.39" fill="#9368ba" stroke="#9368ba" stroke-width="3.6" stroke-linejoin="round"/>
<polygon points="755.2,1082.44 766.1,1093.14 755.2,1103.84 744.3,1093.14" fill="#9368ba" stroke="#9368ba" stroke-width="3.6" stroke-linejoin="round"/>
<polygon points="832.15,1088.66 843.05,1099.36 832.15,1110.06 821.25,1099.36" fill="#9368ba" stroke="#9368ba" stroke-width="3.6" stroke-linejoin="round"/>
<polygon points="909.1,1095.34 920,1106.04 909.1,1116.74 898.2,1106.04" fill="#9368ba" stroke="#9368ba" stroke-width="3.6" stroke-linejoin="round"/>
<polygon points="986.05,1102.48 996.95,1113.18 986.05,1123.88 975.15,1113.18" fill="#9368ba" stroke="#9368ba" stroke-width="3.6" stroke-linejoin="round"/>
<polygon points="1063,1110.09 1073.9,1120.79 1063,1131.49 1052.1,1120.79" fill="#9368ba" stroke="#9368ba" stroke-width="3.6" stroke-linejoin="round"/>
<polygon points="1139.95,1118.16 1150.85,1128.86 1139.95,1139.56 1129.05,1128.86" fill="#9368ba" stroke="#9368ba" stroke-width="3.6" stroke-linejoin="round"/>
<polygon points="1216.9,1126.69 1227.8,1137.39 1216.9,1148.09 1206,1137.39" fill="#9368ba" stroke="#9368ba" stroke-width="3.6" stroke-linejoin="round"/>
<polygon points="1293.85,1135.69 1304.75,1146.39 1293.85,1157.09 1282.95,1146.39" fill="#9368ba" stroke="#9368ba" stroke-width="3.6" stroke-linejoin="round"/>
<polyline points="293.5,1065.2 370.45,1068.38 447.4,1071.63 524.35,1074.95 601.3,1078.34 678.25,1081.8 755.2,1085.34 832.15,1088.94 909.1,1092.61 986.05,1096.36 1063,1100.17 1139.95,1104.06 1216.9,1108.01 1293.85,1112.04 1324.73,1113.68" fill="none" stroke="#b88c20" stroke-width="3.6" stroke-linejoin="round"/>
<polygon points="280.6,1065.6 300.4,1054.9 300.4,1076.3" fill="#b88c20" stroke="#b88c20" stroke-width="2.6" stroke-linejoin="round"/>
<polygon points="357.55,1068.78 377.35,1058.08 377.35,1079.48" fill="#b88c20" stroke="#b88c20" stroke-width="2.6" stroke-linejoin="round"/>
<polygon points="434.5,1072.03 454.3,1061.33 454.3,1082.73" fill="#b88c20" stroke="#b88c20" stroke-width="2.6" stroke-linejoin="round"/>
<polygon points="511.45,1075.35 531.25,1064.65 531.25,1086.05" fill="#b88c20" stroke="#b88c20" stroke-width="2.6" stroke-linejoin="round"/>
<polygon points="588.4,1078.74 608.2,1068.04 608.2,1089.44" fill="#b88c20" stroke="#b88c20" stroke-width="2.6" stroke-linejoin="round"/>
<polygon points="665.35,1082.2 685.15,1071.5 685.15,1092.9" fill="#b88c20" stroke="#b88c20" stroke-width="2.6" stroke-linejoin="round"/>
<polygon points="742.3,1085.74 762.1,1075.04 762.1,1096.44" fill="#b88c20" stroke="#b88c20" stroke-width="2.6" stroke-linejoin="round"/>
<polygon points="819.25,1089.34 839.05,1078.64 839.05,1100.04" fill="#b88c20" stroke="#b88c20" stroke-width="2.6" stroke-linejoin="round"/>
<polygon points="896.2,1093.01 916,1082.31 916,1103.71" fill="#b88c20" stroke="#b88c20" stroke-width="2.6" stroke-linejoin="round"/>
<polygon points="973.15,1096.76 992.95,1086.06 992.95,1107.46" fill="#b88c20" stroke="#b88c20" stroke-width="2.6" stroke-linejoin="round"/>
<polygon points="1050.1,1100.57 1069.9,1089.87 1069.9,1111.27" fill="#b88c20" stroke="#b88c20" stroke-width="2.6" stroke-linejoin="round"/>
<polygon points="1127.05,1104.46 1146.85,1093.76 1146.85,1115.16" fill="#b88c20" stroke="#b88c20" stroke-width="2.6" stroke-linejoin="round"/>
<polygon points="1204,1108.41 1223.8,1097.71 1223.8,1119.11" fill="#b88c20" stroke="#b88c20" stroke-width="2.6" stroke-linejoin="round"/>
<polygon points="1280.95,1112.44 1300.75,1101.74 1300.75,1123.14" fill="#b88c20" stroke="#b88c20" stroke-width="2.6" stroke-linejoin="round"/>
<polyline points="293.5,1065.2 370.45,1069.19 447.4,1073.79 524.35,1079 601.3,1084.83 678.25,1091.26 755.2,1098.3 832.15,1105.95 909.1,1114.2 986.05,1123.07 1063,1132.55 1139.95,1142.64 1216.9,1153.34 1293.85,1164.64 1324.73,1169.35" fill="none" stroke="#50c3b9" stroke-width="3.6" stroke-linejoin="round"/>
<polygon points="306.4,1065.6 286.6,1054.9 286.6,1076.3" fill="#50c3b9" stroke="#50c3b9" stroke-width="2.6" stroke-linejoin="round"/>
<polygon points="383.35,1069.59 363.55,1058.89 363.55,1080.29" fill="#50c3b9" stroke="#50c3b9" stroke-width="2.6" stroke-linejoin="round"/>
<polygon points="460.3,1074.19 440.5,1063.49 440.5,1084.89" fill="#50c3b9" stroke="#50c3b9" stroke-width="2.6" stroke-linejoin="round"/>
<polygon points="537.25,1079.4 517.45,1068.7 517.45,1090.1" fill="#50c3b9" stroke="#50c3b9" stroke-width="2.6" stroke-linejoin="round"/>
<polygon points="614.2,1085.23 594.4,1074.53 594.4,1095.93" fill="#50c3b9" stroke="#50c3b9" stroke-width="2.6" stroke-linejoin="round"/>
<polygon points="691.15,1091.66 671.35,1080.96 671.35,1102.36" fill="#50c3b9" stroke="#50c3b9" stroke-width="2.6" stroke-linejoin="round"/>
<polygon points="768.1,1098.7 748.3,1088 748.3,1109.4" fill="#50c3b9" stroke="#50c3b9" stroke-width="2.6" stroke-linejoin="round"/>
<polygon points="845.05,1106.35 825.25,1095.65 825.25,1117.05" fill="#50c3b9" stroke="#50c3b9" stroke-width="2.6" stroke-linejoin="round"/>
<polygon points="922,1114.6 902.2,1103.9 902.2,1125.3" fill="#50c3b9" stroke="#50c3b9" stroke-width="2.6" stroke-linejoin="round"/>
<polygon points="998.95,1123.47 979.15,1112.77 979.15,1134.17" fill="#50c3b9" stroke="#50c3b9" stroke-width="2.6" stroke-linejoin="round"/>
<polygon points="1075.9,1132.95 1056.1,1122.25 1056.1,1143.65" fill="#50c3b9" stroke="#50c3b9" stroke-width="2.6" stroke-linejoin="round"/>
<polygon points="1152.85,1143.04 1133.05,1132.34 1133.05,1153.74" fill="#50c3b9" stroke="#50c3b9" stroke-width="2.6" stroke-linejoin="round"/>
<polygon points="1229.8,1153.74 1210,1143.04 1210,1164.44" fill="#50c3b9" stroke="#50c3b9" stroke-width="2.6" stroke-linejoin="round"/>
<polygon points="1306.75,1165.04 1286.95,1154.34 1286.95,1175.74" fill="#50c3b9" stroke="#50c3b9" stroke-width="2.6" stroke-linejoin="round"/>
<polyline points="293.5,1065.2 370.45,1068.78 447.4,1072.57 524.35,1076.55 601.3,1080.74 678.25,1085.13 755.2,1089.72 832.15,1094.51 909.1,1099.51 986.05,1104.7 1063,1110.1 1139.95,1115.7 1216.9,1121.5 1293.85,1127.5 1324.73,1129.97" fill="none" stroke="#6f454f" stroke-width="3.6" stroke-linejoin="round"/>
<polygon points="293.5,1054.9 303.4,1060.1 303.4,1071.1 293.5,1076.3 283.6,1071.1 283.6,1060.1" fill="#6f454f" stroke="#6f454f" stroke-width="1.6" stroke-linejoin="round"/>
<polygon points="370.45,1058.48 380.35,1063.68 380.35,1074.68 370.45,1079.88 360.55,1074.68 360.55,1063.68" fill="#6f454f" stroke="#6f454f" stroke-width="1.6" stroke-linejoin="round"/>
<polygon points="447.4,1062.27 457.3,1067.47 457.3,1078.47 447.4,1083.67 437.5,1078.47 437.5,1067.47" fill="#6f454f" stroke="#6f454f" stroke-width="1.6" stroke-linejoin="round"/>
<polygon points="524.35,1066.25 534.25,1071.45 534.25,1082.45 524.35,1087.65 514.45,1082.45 514.45,1071.45" fill="#6f454f" stroke="#6f454f" stroke-width="1.6" stroke-linejoin="round"/>
<polygon points="601.3,1070.44 611.2,1075.64 611.2,1086.64 601.3,1091.84 591.4,1086.64 591.4,1075.64" fill="#6f454f" stroke="#6f454f" stroke-width="1.6" stroke-linejoin="round"/>
<polygon points="678.25,1074.83 688.15,1080.03 688.15,1091.03 678.25,1096.23 668.35,1091.03 668.35,1080.03" fill="#6f454f" stroke="#6f454f" stroke-width="1.6" stroke-linejoin="round"/>
<polygon points="755.2,1079.42 765.1,1084.62 765.1,1095.62 755.2,1100.82 745.3,1095.62 745.3,1084.62" fill="#6f454f" stroke="#6f454f" stroke-width="1.6" stroke-linejoin="round"/>
<polygon points="832.15,1084.21 842.05,1089.41 842.05,1100.41 832.15,1105.61 822.25,1100.41 822.25,1089.41" fill="#6f454f" stroke="#6f454f" stroke-width="1.6" stroke-linejoin="round"/>
<polygon points="909.1,1089.21 919,1094.41 919,1105.41 909.1,1110.61 899.2,1105.41 899.2,1094.41" fill="#6f454f" stroke="#6f454f" stroke-width="1.6" stroke-linejoin="round"/>
<polygon points="986.05,1094.4 995.95,1099.6 995.95,1110.6 986.05,1115.8 976.15,1110.6 976.15,1099.6" fill="#6f454f" stroke="#6f454f" stroke-width="1.6" stroke-linejoin="round"/>
<polygon points="1063,1099.8 1072.9,1105 1072.9,1116 1063,1121.2 1053.1,1116 1053.1,1105" fill="#6f454f" stroke="#6f454f" stroke-width="1.6" stroke-linejoin="round"/>
<polygon points="1139.95,1105.4 1149.85,1110.6 1149.85,1121.6 1139.95,1126.8 1130.05,1121.6 1130.05,1110.6" fill="#6f454f" stroke="#6f454f" stroke-width="1.6" stroke-linejoin="round"/>
<polygon points="1216.9,1111.2 1226.8,1116.4 1226.8,1127.4 1216.9,1132.6 1207,1127.4 1207,1116.4" fill="#6f454f" stroke="#6f454f" stroke-width="1.6" stroke-linejoin="round"/>
<polygon points="1293.85,1117.2 1303.75,1122.4 1303.75,1133.4 1293.85,1138.6 1283.95,1133.4 1283.95,1122.4" fill="#6f454f" stroke="#6f454f" stroke-width="1.6" stroke-linejoin="round"/>
</g>
<path d="M388.2 1362.1H468.6" stroke="#231f20" stroke-width="2.8"/>
<rect x="418.1" y="1353.5" width="20" height="18.2" rx="1.4" fill="#231f20"/>
<text x="487.2" y="1377.7" class="b">F1: Y Diff. Limit</text>
<path d="M388.2 1419.7H468.6" stroke="#e83046" stroke-width="2.8"/>
<ellipse cx="428.1" cy="1419.8" rx="11" ry="10.45" fill="#e83046"/>
<text x="487.2" y="1435.16" class="b">F1: X Diff. Limit</text>
<path d="M388.2 1477.3H468.6" stroke="#3f6cbe" stroke-width="2.8"/>
<polygon points="428.1,1465.95 439.65,1484.2 416.55,1484.2" fill="#3f6cbe" stroke="#3f6cbe" stroke-width="3" stroke-linejoin="round"/>
<text x="487.2" y="1492.62" class="b">F1: Y (ANG) (−4.750, −13.000) deg</text>
<path d="M388.2 1534.9H468.6" stroke="#4bad6c" stroke-width="2.8"/>
<polygon points="428.1,1547.05 439.65,1528.8 416.55,1528.8" fill="#4bad6c" stroke="#4bad6c" stroke-width="3" stroke-linejoin="round"/>
<text x="487.2" y="1550.08" class="b">F1: X (ANG) (−4.750, −13.000) deg</text>
<path d="M388.2 1592.5H468.6" stroke="#9368ba" stroke-width="2.8"/>
<polygon points="428.1,1582.2 439,1592.9 428.1,1603.6 417.2,1592.9" fill="#9368ba" stroke="#9368ba" stroke-width="3.6" stroke-linejoin="round"/>
<text x="487.2" y="1607.54" class="b">F2: Y (ANG) (0.000, −13.000) deg</text>
<path d="M388.2 1650.1H468.6" stroke="#b88c20" stroke-width="2.8"/>
<polygon points="415.2,1650.5 435,1639.8 435,1661.2" fill="#b88c20" stroke="#b88c20" stroke-width="2.6" stroke-linejoin="round"/>
<text x="487.2" y="1665" class="b">F2: X (ANG) (0.000, −13.000) deg</text>
<path d="M388.2 1707.7H468.6" stroke="#50c3b9" stroke-width="2.8"/>
<polygon points="441,1708.1 421.2,1697.4 421.2,1718.8" fill="#50c3b9" stroke="#50c3b9" stroke-width="2.6" stroke-linejoin="round"/>
<text x="487.2" y="1722.46" class="b">F3: Y (ANG) (4.750, −13.000) deg</text>
<path d="M388.2 1765.3H468.6" stroke="#6f454f" stroke-width="2.8"/>
<polygon points="428.1,1755 438,1760.2 438,1771.2 428.1,1776.4 418.2,1771.2 418.2,1760.2" fill="#6f454f" stroke="#6f454f" stroke-width="1.6" stroke-linejoin="round"/>
<text x="487.2" y="1779.92" class="b">F3: X (ANG) (4.750, −13.000) deg</text>
</g>
<g id="chart3">
<rect x="293.5" y="2095" width="1021" height="756.4" fill="none" stroke="#231f20" stroke-width="3"/>
<path d="M293.5 2775.76h16.4M293.5 2700.12h16.4M293.5 2624.48h16.4M293.5 2548.84h16.4M293.5 2473.2h16.4M293.5 2397.56h16.4M293.5 2321.92h16.4M293.5 2246.28h16.4M293.5 2170.64h16.4M366.43 2851.4v-15.6M439.36 2851.4v-15.6M512.29 2851.4v-15.6M585.21 2851.4v-15.6M658.14 2851.4v-15.6M731.07 2851.4v-15.6M804 2851.4v-15.6M876.93 2851.4v-15.6M949.86 2851.4v-15.6M1022.79 2851.4v-15.6M1095.71 2851.4v-15.6M1168.64 2851.4v-15.6M1241.57 2851.4v-15.6" stroke="#231f20" stroke-width="3" fill="none"/>
<g text-anchor="end">
<text transform="translate(271.8 2866) scale(1 1.045)">0</text>
<text transform="translate(271.8 2790.02) scale(1 1.045)">0.1</text>
<text transform="translate(271.8 2714.04) scale(1 1.045)">0.2</text>
<text transform="translate(271.8 2638.06) scale(1 1.045)">0.3</text>
<text transform="translate(271.8 2562.08) scale(1 1.045)">0.4</text>
<text transform="translate(271.8 2486.1) scale(1 1.045)">0.5</text>
<text transform="translate(271.8 2410.12) scale(1 1.045)">0.6</text>
<text transform="translate(271.8 2334.14) scale(1 1.045)">0.7</text>
<text transform="translate(271.8 2258.16) scale(1 1.045)">0.8</text>
<text transform="translate(271.8 2182.18) scale(1 1.045)">0.9</text>
<text transform="translate(271.8 2106.2) scale(1 1.045)">1.0</text>
</g>
<g text-anchor="middle">
<text transform="translate(292.5 2909.9) scale(1 1.045)">0</text>
<text transform="translate(365.43 2909.9) scale(1 1.045)">2</text>
<text transform="translate(438.36 2909.9) scale(1 1.045)">4</text>
<text transform="translate(511.29 2909.9) scale(1 1.045)">6</text>
<text transform="translate(584.21 2909.9) scale(1 1.045)">8</text>
<text transform="translate(657.14 2909.9) scale(1 1.045)">10</text>
<text transform="translate(730.07 2909.9) scale(1 1.045)">12</text>
<text transform="translate(803 2909.9) scale(1 1.045)">14</text>
<text transform="translate(875.93 2909.9) scale(1 1.045)">16</text>
<text transform="translate(948.86 2909.9) scale(1 1.045)">18</text>
<text transform="translate(1021.79 2909.9) scale(1 1.045)">20</text>
<text transform="translate(1094.71 2909.9) scale(1 1.045)">22</text>
<text transform="translate(1167.64 2909.9) scale(1 1.045)">24</text>
<text transform="translate(1240.57 2909.9) scale(1 1.045)">26</text>
<text transform="translate(1313.5 2909.9) scale(1 1.045)">28</text>
</g>
<text transform="translate(177.1 2466) rotate(-90)" text-anchor="middle" class="m">Modulation</text>
<text x="496.7" y="2973.4" class="x" style="filter:grayscale(1)">Spatial frequency/(lp·mm<tspan font-size="33" dy="-19">−1</tspan><tspan dy="19">)</tspan></text>
<text x="693.7" y="3051.3" class="b">(c) 370 nm</text>
<clipPath id="clip2"><rect x="273.5" y="2075" width="1042.5" height="796.4"/></clipPath>
<g clip-path="url(#clip2)">
<polyline points="293.5,2095 370.45,2098.15 447.4,2101.28 524.35,2104.4 601.3,2107.5 678.25,2110.57 755.2,2113.63 832.15,2116.68 909.1,2119.7 986.05,2122.71 1063,2125.69 1139.95,2128.66 1216.9,2131.62 1293.85,2134.55 1325.44,2135.75" fill="none" stroke="#231f20" stroke-width="3.6" stroke-linejoin="round"/>
<rect x="283.5" y="2086.4" width="20" height="18.2" rx="1.4" fill="#231f20"/>
<rect x="360.45" y="2089.55" width="20" height="18.2" rx="1.4" fill="#231f20"/>
<rect x="437.4" y="2092.68" width="20" height="18.2" rx="1.4" fill="#231f20"/>
<rect x="514.35" y="2095.8" width="20" height="18.2" rx="1.4" fill="#231f20"/>
<rect x="591.3" y="2098.9" width="20" height="18.2" rx="1.4" fill="#231f20"/>
<rect x="668.25" y="2101.97" width="20" height="18.2" rx="1.4" fill="#231f20"/>
<rect x="745.2" y="2105.03" width="20" height="18.2" rx="1.4" fill="#231f20"/>
<rect x="822.15" y="2108.08" width="20" height="18.2" rx="1.4" fill="#231f20"/>
<rect x="899.1" y="2111.1" width="20" height="18.2" rx="1.4" fill="#231f20"/>
<rect x="976.05" y="2114.11" width="20" height="18.2" rx="1.4" fill="#231f20"/>
<rect x="1053" y="2117.09" width="20" height="18.2" rx="1.4" fill="#231f20"/>
<rect x="1129.95" y="2120.06" width="20" height="18.2" rx="1.4" fill="#231f20"/>
<rect x="1206.9" y="2123.02" width="20" height="18.2" rx="1.4" fill="#231f20"/>
<rect x="1283.85" y="2125.95" width="20" height="18.2" rx="1.4" fill="#231f20"/>
<polyline points="293.5,2095 370.45,2098.25 447.4,2101.48 524.35,2104.72 601.3,2107.94 678.25,2111.16 755.2,2114.37 832.15,2117.58 909.1,2120.78 986.05,2123.97 1063,2127.15 1139.95,2130.33 1216.9,2133.5 1293.85,2136.67 1325.44,2137.97" fill="none" stroke="#e83046" stroke-width="3.6" stroke-linejoin="round"/>
<ellipse cx="293.5" cy="2095.1" rx="11" ry="10.45" fill="#e83046"/>
<ellipse cx="370.45" cy="2098.35" rx="11" ry="10.45" fill="#e83046"/>
<ellipse cx="447.4" cy="2101.58" rx="11" ry="10.45" fill="#e83046"/>
<ellipse cx="524.35" cy="2104.82" rx="11" ry="10.45" fill="#e83046"/>
<ellipse cx="601.3" cy="2108.04" rx="11" ry="10.45" fill="#e83046"/>
<ellipse cx="678.25" cy="2111.26" rx="11" ry="10.45" fill="#e83046"/>
<ellipse cx="755.2" cy="2114.47" rx="11" ry="10.45" fill="#e83046"/>
<ellipse cx="832.15" cy="2117.68" rx="11" ry="10.45" fill="#e83046"/>
<ellipse cx="909.1" cy="2120.88" rx="11" ry="10.45" fill="#e83046"/>
<ellipse cx="986.05" cy="2124.07" rx="11" ry="10.45" fill="#e83046"/>
<ellipse cx="1063" cy="2127.25" rx="11" ry="10.45" fill="#e83046"/>
<ellipse cx="1139.95" cy="2130.43" rx="11" ry="10.45" fill="#e83046"/>
<ellipse cx="1216.9" cy="2133.6" rx="11" ry="10.45" fill="#e83046"/>
<ellipse cx="1293.85" cy="2136.77" rx="11" ry="10.45" fill="#e83046"/>
<polyline points="293.5,2095 370.45,2099.57 447.4,2105.17 524.35,2111.8 601.3,2119.47 678.25,2128.17 755.2,2137.91 832.15,2148.68 909.1,2160.48 986.05,2173.32 1063,2187.19 1139.95,2202.1 1216.9,2218.04 1293.85,2235.01 1325.44,2242.28" fill="none" stroke="#3f6cbe" stroke-width="3.6" stroke-linejoin="round"/>
<polygon points="293.5,2083.65 305.05,2101.9 281.95,2101.9" fill="#3f6cbe" stroke="#3f6cbe" stroke-width="3" stroke-linejoin="round"/>
<polygon points="370.45,2088.22 382,2106.47 358.9,2106.47" fill="#3f6cbe" stroke="#3f6cbe" stroke-width="3" stroke-linejoin="round"/>
<polygon points="447.4,2093.82 458.95,2112.07 435.85,2112.07" fill="#3f6cbe" stroke="#3f6cbe" stroke-width="3" stroke-linejoin="round"/>
<polygon points="524.35,2100.45 535.9,2118.7 512.8,2118.7" fill="#3f6cbe" stroke="#3f6cbe" stroke-width="3" stroke-linejoin="round"/>
<polygon points="601.3,2108.12 612.85,2126.37 589.75,2126.37" fill="#3f6cbe" stroke="#3f6cbe" stroke-width="3" stroke-linejoin="round"/>
<polygon points="678.25,2116.82 689.8,2135.07 666.7,2135.07" fill="#3f6cbe" stroke="#3f6cbe" stroke-width="3" stroke-linejoin="round"/>
<polygon points="755.2,2126.56 766.75,2144.81 743.65,2144.81" fill="#3f6cbe" stroke="#3f6cbe" stroke-width="3" stroke-linejoin="round"/>
<polygon points="832.15,2137.33 843.7,2155.58 820.6,2155.58" fill="#3f6cbe" stroke="#3f6cbe" stroke-width="3" stroke-linejoin="round"/>
<polygon points="909.1,2149.13 920.65,2167.38 897.55,2167.38" fill="#3f6cbe" stroke="#3f6cbe" stroke-width="3" stroke-linejoin="round"/>
<polygon points="986.05,2161.97 997.6,2180.22 974.5,2180.22" fill="#3f6cbe" stroke="#3f6cbe" stroke-width="3" stroke-linejoin="round"/>
<polygon points="1063,2175.84 1074.55,2194.09 1051.45,2194.09" fill="#3f6cbe" stroke="#3f6cbe" stroke-width="3" stroke-linejoin="round"/>
<polygon points="1139.95,2190.75 1151.5,2209 1128.4,2209" fill="#3f6cbe" stroke="#3f6cbe" stroke-width="3" stroke-linejoin="round"/>
<polygon points="1216.9,2206.69 1228.45,2224.94 1205.35,2224.94" fill="#3f6cbe" stroke="#3f6cbe" stroke-width="3" stroke-linejoin="round"/>
<polygon points="1293.85,2223.66 1305.4,2241.91 1282.3,2241.91" fill="#3f6cbe" stroke="#3f6cbe" stroke-width="3" stroke-linejoin="round"/>
<polyline points="293.5,2095 370.45,2098.56 447.4,2102.29 524.35,2106.19 601.3,2110.24 678.25,2114.47 755.2,2118.85 832.15,2123.4 909.1,2128.12 986.05,2133 1063,2138.04 1139.95,2143.25 1216.9,2148.63 1293.85,2154.17 1325.44,2156.49" fill="none" stroke="#4bad6c" stroke-width="3.6" stroke-linejoin="round"/>
<polygon points="293.5,2107.15 305.05,2088.9 281.95,2088.9" fill="#4bad6c" stroke="#4bad6c" stroke-width="3" stroke-linejoin="round"/>
<polygon points="370.45,2110.71 382,2092.46 358.9,2092.46" fill="#4bad6c" stroke="#4bad6c" stroke-width="3" stroke-linejoin="round"/>
<polygon points="447.4,2114.44 458.95,2096.19 435.85,2096.19" fill="#4bad6c" stroke="#4bad6c" stroke-width="3" stroke-linejoin="round"/>
<polygon points="524.35,2118.34 535.9,2100.09 512.8,2100.09" fill="#4bad6c" stroke="#4bad6c" stroke-width="3" stroke-linejoin="round"/>
<polygon points="601.3,2122.39 612.85,2104.14 589.75,2104.14" fill="#4bad6c" stroke="#4bad6c" stroke-width="3" stroke-linejoin="round"/>
<polygon points="678.25,2126.62 689.8,2108.37 666.7,2108.37" fill="#4bad6c" stroke="#4bad6c" stroke-width="3" stroke-linejoin="round"/>
<polygon points="755.2,2131 766.75,2112.75 743.65,2112.75" fill="#4bad6c" stroke="#4bad6c" stroke-width="3" stroke-linejoin="round"/>
<polygon points="832.15,2135.55 843.7,2117.3 820.6,2117.3" fill="#4bad6c" stroke="#4bad6c" stroke-width="3" stroke-linejoin="round"/>
<polygon points="909.1,2140.27 920.65,2122.02 897.55,2122.02" fill="#4bad6c" stroke="#4bad6c" stroke-width="3" stroke-linejoin="round"/>
<polygon points="986.05,2145.15 997.6,2126.9 974.5,2126.9" fill="#4bad6c" stroke="#4bad6c" stroke-width="3" stroke-linejoin="round"/>
<polygon points="1063,2150.19 1074.55,2131.94 1051.45,2131.94" fill="#4bad6c" stroke="#4bad6c" stroke-width="3" stroke-linejoin="round"/>
<polygon points="1139.95,2155.4 1151.5,2137.15 1128.4,2137.15" fill="#4bad6c" stroke="#4bad6c" stroke-width="3" stroke-linejoin="round"/>
<polygon points="1216.9,2160.78 1228.45,2142.53 1205.35,2142.53" fill="#4bad6c" stroke="#4bad6c" stroke-width="3" stroke-linejoin="round"/>
<polygon points="1293.85,2166.32 1305.4,2148.07 1282.3,2148.07" fill="#4bad6c" stroke="#4bad6c" stroke-width="3" stroke-linejoin="round"/>
<polyline points="293.5,2095 370.45,2099.11 447.4,2104.01 524.35,2109.71 601.3,2116.2 678.25,2123.48 755.2,2131.55 832.15,2140.41 909.1,2150.07 986.05,2160.51 1063,2171.75 1139.95,2183.78 1216.9,2196.61 1293.85,2210.22 1325.44,2216.04" fill="none" stroke="#9368ba" stroke-width="3.6" stroke-linejoin="round"/>
<polygon points="293.5,2084.7 304.4,2095.4 293.5,2106.1 282.6,2095.4" fill="#9368ba" stroke="#9368ba" stroke-width="3.6" stroke-linejoin="round"/>
<polygon points="370.45,2088.81 381.35,2099.51 370.45,2110.21 359.55,2099.51" fill="#9368ba" stroke="#9368ba" stroke-width="3.6" stroke-linejoin="round"/>
<polygon points="447.4,2093.71 458.3,2104.41 447.4,2115.11 436.5,2104.41" fill="#9368ba" stroke="#9368ba" stroke-width="3.6" stroke-linejoin="round"/>
<polygon points="524.35,2099.41 535.25,2110.11 524.35,2120.81 513.45,2110.11" fill="#9368ba" stroke="#9368ba" stroke-width="3.6" stroke-linejoin="round"/>
<polygon points="601.3,2105.9 612.2,2116.6 601.3,2127.3 590.4,2116.6" fill="#9368ba" stroke="#9368ba" stroke-width="3.6" stroke-linejoin="round"/>
<polygon points="678.25,2113.18 689.15,2123.88 678.25,2134.58 667.35,2123.88" fill="#9368ba" stroke="#9368ba" stroke-width="3.6" stroke-linejoin="round"/>
<polygon points="755.2,2121.25 766.1,2131.95 755.2,2142.65 744.3,2131.95" fill="#9368ba" stroke="#9368ba" stroke-width="3.6" stroke-linejoin="round"/>
<polygon points="832.15,2130.11 843.05,2140.81 832.15,2151.51 821.25,2140.81" fill="#9368ba" stroke="#9368ba" stroke-width="3.6" stroke-linejoin="round"/>
<polygon points="909.1,2139.77 920,2150.47 909.1,2161.17 898.2,2150.47" fill="#9368ba" stroke="#9368ba" stroke-width="3.6" stroke-linejoin="round"/>
<polygon points="986.05,2150.21 996.95,2160.91 986.05,2171.61 975.15,2160.91" fill="#9368ba" stroke="#9368ba" stroke-width="3.6" stroke-linejoin="round"/>
<polygon points="1063,2161.45 1073.9,2172.15 1063,2182.85 1052.1,2172.15" fill="#9368ba" stroke="#9368ba" stroke-width="3.6" stroke-linejoin="round"/>
<polygon points="1139.95,2173.48 1150.85,2184.18 1139.95,2194.88 1129.05,2184.18" fill="#9368ba" stroke="#9368ba" stroke-width="3.6" stroke-linejoin="round"/>
<polygon points="1216.9,2186.31 1227.8,2197.01 1216.9,2207.71 1206,2197.01" fill="#9368ba" stroke="#9368ba" stroke-width="3.6" stroke-linejoin="round"/>
<polygon points="1293.85,2199.92 1304.75,2210.62 1293.85,2221.32 1282.95,2210.62" fill="#9368ba" stroke="#9368ba" stroke-width="3.6" stroke-linejoin="round"/>
<polyline points="293.5,2095 370.45,2098.02 447.4,2101.15 524.35,2104.39 601.3,2107.73 678.25,2111.19 755.2,2114.76 832.15,2118.44 909.1,2122.22 986.05,2126.12 1063,2130.13 1139.95,2134.24 1216.9,2138.47 1293.85,2142.8 1325.44,2144.62" fill="none" stroke="#b88c20" stroke-width="3.6" stroke-linejoin="round"/>
<polygon points="280.6,2095.4 300.4,2084.7 300.4,2106.1" fill="#b88c20" stroke="#b88c20" stroke-width="2.6" stroke-linejoin="round"/>
<polygon points="357.55,2098.42 377.35,2087.72 377.35,2109.12" fill="#b88c20" stroke="#b88c20" stroke-width="2.6" stroke-linejoin="round"/>
<polygon points="434.5,2101.55 454.3,2090.85 454.3,2112.25" fill="#b88c20" stroke="#b88c20" stroke-width="2.6" stroke-linejoin="round"/>
<polygon points="511.45,2104.79 531.25,2094.09 531.25,2115.49" fill="#b88c20" stroke="#b88c20" stroke-width="2.6" stroke-linejoin="round"/>
<polygon points="588.4,2108.13 608.2,2097.43 608.2,2118.83" fill="#b88c20" stroke="#b88c20" stroke-width="2.6" stroke-linejoin="round"/>
<polygon points="665.35,2111.59 685.15,2100.89 685.15,2122.29" fill="#b88c20" stroke="#b88c20" stroke-width="2.6" stroke-linejoin="round"/>
<polygon points="742.3,2115.16 762.1,2104.46 762.1,2125.86" fill="#b88c20" stroke="#b88c20" stroke-width="2.6" stroke-linejoin="round"/>
<polygon points="819.25,2118.84 839.05,2108.14 839.05,2129.54" fill="#b88c20" stroke="#b88c20" stroke-width="2.6" stroke-linejoin="round"/>
<polygon points="896.2,2122.62 916,2111.92 916,2133.32" fill="#b88c20" stroke="#b88c20" stroke-width="2.6" stroke-linejoin="round"/>
<polygon points="973.15,2126.52 992.95,2115.82 992.95,2137.22" fill="#b88c20" stroke="#b88c20" stroke-width="2.6" stroke-linejoin="round"/>
<polygon points="1050.1,2130.53 1069.9,2119.83 1069.9,2141.23" fill="#b88c20" stroke="#b88c20" stroke-width="2.6" stroke-linejoin="round"/>
<polygon points="1127.05,2134.64 1146.85,2123.94 1146.85,2145.34" fill="#b88c20" stroke="#b88c20" stroke-width="2.6" stroke-linejoin="round"/>
<polygon points="1204,2138.87 1223.8,2128.17 1223.8,2149.57" fill="#b88c20" stroke="#b88c20" stroke-width="2.6" stroke-linejoin="round"/>
<polygon points="1280.95,2143.2 1300.75,2132.5 1300.75,2153.9" fill="#b88c20" stroke="#b88c20" stroke-width="2.6" stroke-linejoin="round"/>
<polyline points="293.5,2095 370.45,2099.57 447.4,2105.17 524.35,2111.8 601.3,2119.47 678.25,2128.17 755.2,2137.91 832.15,2148.68 909.1,2160.48 986.05,2173.32 1063,2187.19 1139.95,2202.1 1216.9,2218.04 1293.85,2235.01 1325.44,2242.28" fill="none" stroke="#50c3b9" stroke-width="3.6" stroke-linejoin="round"/>
<polygon points="306.4,2095.4 286.6,2084.7 286.6,2106.1" fill="#50c3b9" stroke="#50c3b9" stroke-width="2.6" stroke-linejoin="round"/>
<polygon points="383.35,2099.97 363.55,2089.27 363.55,2110.67" fill="#50c3b9" stroke="#50c3b9" stroke-width="2.6" stroke-linejoin="round"/>
<polygon points="460.3,2105.57 440.5,2094.87 440.5,2116.27" fill="#50c3b9" stroke="#50c3b9" stroke-width="2.6" stroke-linejoin="round"/>
<polygon points="537.25,2112.2 517.45,2101.5 517.45,2122.9" fill="#50c3b9" stroke="#50c3b9" stroke-width="2.6" stroke-linejoin="round"/>
<polygon points="614.2,2119.87 594.4,2109.17 594.4,2130.57" fill="#50c3b9" stroke="#50c3b9" stroke-width="2.6" stroke-linejoin="round"/>
<polygon points="691.15,2128.57 671.35,2117.87 671.35,2139.27" fill="#50c3b9" stroke="#50c3b9" stroke-width="2.6" stroke-linejoin="round"/>
<polygon points="768.1,2138.31 748.3,2127.61 748.3,2149.01" fill="#50c3b9" stroke="#50c3b9" stroke-width="2.6" stroke-linejoin="round"/>
<polygon points="845.05,2149.08 825.25,2138.38 825.25,2159.78" fill="#50c3b9" stroke="#50c3b9" stroke-width="2.6" stroke-linejoin="round"/>
<polygon points="922,2160.88 902.2,2150.18 902.2,2171.58" fill="#50c3b9" stroke="#50c3b9" stroke-width="2.6" stroke-linejoin="round"/>
<polygon points="998.95,2173.72 979.15,2163.02 979.15,2184.42" fill="#50c3b9" stroke="#50c3b9" stroke-width="2.6" stroke-linejoin="round"/>
<polygon points="1075.9,2187.59 1056.1,2176.89 1056.1,2198.29" fill="#50c3b9" stroke="#50c3b9" stroke-width="2.6" stroke-linejoin="round"/>
<polygon points="1152.85,2202.5 1133.05,2191.8 1133.05,2213.2" fill="#50c3b9" stroke="#50c3b9" stroke-width="2.6" stroke-linejoin="round"/>
<polygon points="1229.8,2218.44 1210,2207.74 1210,2229.14" fill="#50c3b9" stroke="#50c3b9" stroke-width="2.6" stroke-linejoin="round"/>
<polygon points="1306.75,2235.41 1286.95,2224.71 1286.95,2246.11" fill="#50c3b9" stroke="#50c3b9" stroke-width="2.6" stroke-linejoin="round"/>
<polyline points="293.5,2095 370.45,2098.56 447.4,2102.29 524.35,2106.19 601.3,2110.24 678.25,2114.47 755.2,2118.85 832.15,2123.4 909.1,2128.12 986.05,2133 1063,2138.04 1139.95,2143.25 1216.9,2148.63 1293.85,2154.17 1325.44,2156.49" fill="none" stroke="#6f454f" stroke-width="3.6" stroke-linejoin="round"/>
<polygon points="293.5,2084.7 303.4,2089.9 303.4,2100.9 293.5,2106.1 283.6,2100.9 283.6,2089.9" fill="#6f454f" stroke="#6f454f" stroke-width="1.6" stroke-linejoin="round"/>
<polygon points="370.45,2088.26 380.35,2093.46 380.35,2104.46 370.45,2109.66 360.55,2104.46 360.55,2093.46" fill="#6f454f" stroke="#6f454f" stroke-width="1.6" stroke-linejoin="round"/>
<polygon points="447.4,2091.99 457.3,2097.19 457.3,2108.19 447.4,2113.39 437.5,2108.19 437.5,2097.19" fill="#6f454f" stroke="#6f454f" stroke-width="1.6" stroke-linejoin="round"/>
<polygon points="524.35,2095.89 534.25,2101.09 534.25,2112.09 524.35,2117.29 514.45,2112.09 514.45,2101.09" fill="#6f454f" stroke="#6f454f" stroke-width="1.6" stroke-linejoin="round"/>
<polygon points="601.3,2099.94 611.2,2105.14 611.2,2116.14 601.3,2121.34 591.4,2116.14 591.4,2105.14" fill="#6f454f" stroke="#6f454f" stroke-width="1.6" stroke-linejoin="round"/>
<polygon points="678.25,2104.17 688.15,2109.37 688.15,2120.37 678.25,2125.57 668.35,2120.37 668.35,2109.37" fill="#6f454f" stroke="#6f454f" stroke-width="1.6" stroke-linejoin="round"/>
<polygon points="755.2,2108.55 765.1,2113.75 765.1,2124.75 755.2,2129.95 745.3,2124.75 745.3,2113.75" fill="#6f454f" stroke="#6f454f" stroke-width="1.6" stroke-linejoin="round"/>
<polygon points="832.15,2113.1 842.05,2118.3 842.05,2129.3 832.15,2134.5 822.25,2129.3 822.25,2118.3" fill="#6f454f" stroke="#6f454f" stroke-width="1.6" stroke-linejoin="round"/>
<polygon points="909.1,2117.82 919,2123.02 919,2134.02 909.1,2139.22 899.2,2134.02 899.2,2123.02" fill="#6f454f" stroke="#6f454f" stroke-width="1.6" stroke-linejoin="round"/>
<polygon points="986.05,2122.7 995.95,2127.9 995.95,2138.9 986.05,2144.1 976.15,2138.9 976.15,2127.9" fill="#6f454f" stroke="#6f454f" stroke-width="1.6" stroke-linejoin="round"/>
<polygon points="1063,2127.74 1072.9,2132.94 1072.9,2143.94 1063,2149.14 1053.1,2143.94 1053.1,2132.94" fill="#6f454f" stroke="#6f454f" stroke-width="1.6" stroke-linejoin="round"/>
<polygon points="1139.95,2132.95 1149.85,2138.15 1149.85,2149.15 1139.95,2154.35 1130.05,2149.15 1130.05,2138.15" fill="#6f454f" stroke="#6f454f" stroke-width="1.6" stroke-linejoin="round"/>
<polygon points="1216.9,2138.33 1226.8,2143.53 1226.8,2154.53 1216.9,2159.73 1207,2154.53 1207,2143.53" fill="#6f454f" stroke="#6f454f" stroke-width="1.6" stroke-linejoin="round"/>
<polygon points="1293.85,2143.87 1303.75,2149.07 1303.75,2160.07 1293.85,2165.27 1283.95,2160.07 1283.95,2149.07" fill="#6f454f" stroke="#6f454f" stroke-width="1.6" stroke-linejoin="round"/>
</g>
<path d="M383.3 2380.5H463.7" stroke="#231f20" stroke-width="2.8"/>
<rect x="413.5" y="2371.9" width="20" height="18.2" rx="1.4" fill="#231f20"/>
<text x="481.7" y="2397.7" class="b">F1: Y Diff. Limit</text>
<path d="M383.3 2438.1H463.7" stroke="#e83046" stroke-width="2.8"/>
<ellipse cx="423.5" cy="2438.2" rx="11" ry="10.45" fill="#e83046"/>
<text x="481.7" y="2454.81" class="b">F1: X Diff. Limit</text>
<path d="M383.3 2495.7H463.7" stroke="#3f6cbe" stroke-width="2.8"/>
<polygon points="423.5,2484.35 435.05,2502.6 411.95,2502.6" fill="#3f6cbe" stroke="#3f6cbe" stroke-width="3" stroke-linejoin="round"/>
<text x="481.7" y="2511.92" class="b">F1: Y (ANG) (−4.750, −13.000) deg</text>
<path d="M383.3 2553.3H463.7" stroke="#4bad6c" stroke-width="2.8"/>
<polygon points="423.5,2565.45 435.05,2547.2 411.95,2547.2" fill="#4bad6c" stroke="#4bad6c" stroke-width="3" stroke-linejoin="round"/>
<text x="481.7" y="2569.03" class="b">F1: X (ANG) (−4.750, −13.000) deg</text>
<path d="M383.3 2610.9H463.7" stroke="#9368ba" stroke-width="2.8"/>
<polygon points="423.5,2600.6 434.4,2611.3 423.5,2622 412.6,2611.3" fill="#9368ba" stroke="#9368ba" stroke-width="3.6" stroke-linejoin="round"/>
<text x="481.7" y="2626.14" class="b">F2: Y (ANG) (0.000, −13.000) deg</text>
<path d="M383.3 2668.5H463.7" stroke="#b88c20" stroke-width="2.8"/>
<polygon points="410.6,2668.9 430.4,2658.2 430.4,2679.6" fill="#b88c20" stroke="#b88c20" stroke-width="2.6" stroke-linejoin="round"/>
<text x="481.7" y="2683.25" class="b">F2: X (ANG) (0.000, −13.000) deg</text>
<path d="M383.3 2726.1H463.7" stroke="#50c3b9" stroke-width="2.8"/>
<polygon points="436.4,2726.5 416.6,2715.8 416.6,2737.2" fill="#50c3b9" stroke="#50c3b9" stroke-width="2.6" stroke-linejoin="round"/>
<text x="481.7" y="2740.36" class="b">F3: Y (ANG) (4.750, −13.000) deg</text>
<path d="M383.3 2783.7H463.7" stroke="#6f454f" stroke-width="2.8"/>
<polygon points="423.5,2773.4 433.4,2778.6 433.4,2789.6 423.5,2794.8 413.6,2789.6 413.6,2778.6" fill="#6f454f" stroke="#6f454f" stroke-width="1.6" stroke-linejoin="round"/>
<text x="481.7" y="2797.47" class="b">F3: X (ANG) (4.750, −13.000) deg</text>
</g>
</svg>
</body></html>
